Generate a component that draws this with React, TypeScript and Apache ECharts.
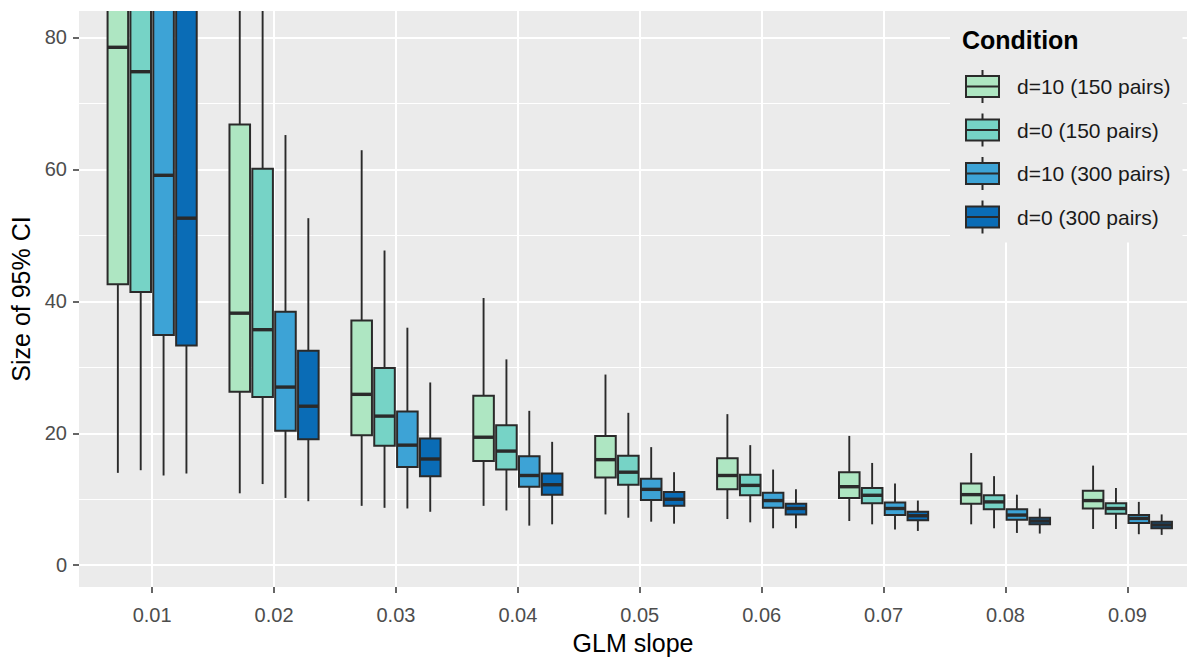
import React, { useEffect, useRef } from "react";
import * as echarts from "echarts";

// GLM slope categories (x positions 1..9)
const xLabels = ["0.01", "0.02", "0.03", "0.04", "0.05", "0.06", "0.07", "0.08", "0.09"];
const xPositions = [1, 2, 3, 4, 5, 6, 7, 8, 9];
const yMajor = [0, 20, 40, 60, 80];
const yMinor = [10, 30, 50, 70];

const conditionNames = ["d=10 (150 pairs)", "d=0 (150 pairs)", "d=10 (300 pairs)", "d=0 (300 pairs)"];
const conditionColors = ["#aee6c2", "#76d3c6", "#3da3d6", "#0a6cb6"];

// each row: [lower whisker, Q1, median, Q3, upper whisker]
const d10_150 = [
  [14.0, 42.6, 78.5, 110, 180],
  [10.9, 26.3, 38.2, 66.8, 120],
  [9.0, 19.7, 25.9, 37.1, 62.9],
  [9.0, 15.8, 19.4, 25.7, 40.5],
  [7.7, 13.3, 16.0, 19.6, 28.9],
  [7.0, 11.5, 13.6, 16.2, 22.9],
  [6.7, 10.2, 11.9, 14.1, 19.6],
  [6.2, 9.3, 10.7, 12.4, 17.0],
  [5.5, 8.6, 9.8, 11.3, 15.1],
];
const d0_150 = [
  [14.4, 41.4, 74.8, 105, 170],
  [12.3, 25.5, 35.7, 60.1, 110],
  [8.7, 18.1, 22.6, 29.9, 47.7],
  [8.3, 14.5, 17.3, 21.2, 31.2],
  [7.2, 12.2, 14.1, 16.6, 23.1],
  [6.5, 10.6, 12.1, 13.7, 18.2],
  [6.2, 9.4, 10.6, 11.7, 15.5],
  [5.6, 8.5, 9.6, 10.6, 13.5],
  [5.5, 7.8, 8.6, 9.4, 11.7],
];
const d10_300 = [
  [13.6, 34.9, 59.1, 95, 150],
  [10.2, 20.4, 27.0, 38.4, 65.2],
  [8.6, 14.9, 18.2, 23.3, 36.0],
  [6.0, 11.9, 13.6, 16.5, 23.4],
  [6.6, 9.9, 11.5, 13.1, 17.9],
  [5.6, 8.7, 9.8, 11.0, 14.5],
  [5.4, 7.6, 8.6, 9.5, 12.4],
  [4.9, 6.9, 7.6, 8.5, 10.7],
  [4.7, 6.4, 7.1, 7.6, 9.6],
];
const d0_300 = [
  [13.9, 33.3, 52.6, 90, 140],
  [9.7, 19.1, 24.1, 32.5, 52.6],
  [8.1, 13.5, 16.1, 19.2, 27.7],
  [6.2, 10.7, 12.2, 13.9, 18.7],
  [6.3, 9.0, 10.0, 11.1, 14.1],
  [5.6, 7.7, 8.6, 9.3, 11.5],
  [5.2, 6.8, 7.5, 8.1, 9.8],
  [4.8, 6.2, 6.7, 7.2, 8.6],
  [4.6, 5.6, 6.1, 6.6, 7.7],
];
const conditionData = [d10_150, d0_150, d10_300, d0_300];

const FONT = "'Liberation Sans', Arial, Helvetica, sans-serif";
const DODGE = 0.75;
const SLOT = DODGE / 4;
const BOX = SLOT * 0.9;
const OUTLINE = "#2a2a2a";
const LEGEND_ICON = "path://M0,6H33V27H0Z M0,16.5H33 M16.5,0V6 M16.5,27V33";

export default function App() {
  const ref = useRef<HTMLDivElement>(null);

  useEffect(() => {
    if (!ref.current) return;
    const chart = echarts.init(ref.current, undefined, { renderer: "svg" });

    const series = conditionData.map((rows, k) => {
      const offset = (k - 1.5) * SLOT;
      return {
        type: "custom",
        name: conditionNames[k],
        clip: true,
        itemStyle: { color: conditionColors[k], borderColor: OUTLINE, borderWidth: 2 },
        encode: { x: 0, y: [1, 2, 3, 4, 5] },
        data: rows.map((r, i) => [xPositions[i], ...r]),
        renderItem: (params: any, api: any) => {
          const g = api.value(0);
          const cs = params.coordSys;
          const top = cs.y - 20;
          const bot = cs.y + cs.height + 20;
          const clampY = (v: number) => Math.min(bot, Math.max(top, v));
          const xc = api.coord([g + offset, 0])[0];
          const w = api.size([BOX, 0])[0];
          const yLo = clampY(api.coord([g, api.value(1)])[1]);
          const yQ1 = clampY(api.coord([g, api.value(2)])[1]);
          const yMd = clampY(api.coord([g, api.value(3)])[1]);
          const yQ3 = clampY(api.coord([g, api.value(4)])[1]);
          const yHi = clampY(api.coord([g, api.value(5)])[1]);
          const ls = { stroke: OUTLINE, lineWidth: 1.9 };
          return {
            type: "group",
            children: [
              { type: "line", shape: { x1: xc, y1: yHi, x2: xc, y2: yQ3 }, style: ls },
              { type: "line", shape: { x1: xc, y1: yQ1, x2: xc, y2: yLo }, style: ls },
              {
                type: "rect",
                shape: { x: xc - w / 2, y: yQ3, width: w, height: yQ1 - yQ3 },
                style: { fill: conditionColors[k], stroke: OUTLINE, lineWidth: 2 },
              },
              {
                type: "line",
                shape: { x1: xc - w / 2, y1: yMd, x2: xc + w / 2, y2: yMd },
                style: { stroke: OUTLINE, lineWidth: 3.4 },
              },
            ],
          };
        },
      };
    });

    chart.setOption({
      animation: false,
      backgroundColor: "#ffffff",
      textStyle: { fontFamily: FONT },
      title: {
        text: "Condition",
        left: 962,
        top: 27,
        padding: 0,
        textStyle: { fontFamily: FONT, fontSize: 25, fontWeight: "bold", color: "#000000" },
      },
      legend: {
        orient: "vertical",
        left: 950,
        top: 11,
        padding: [58, 12, 8, 15],
        itemGap: 8.5,
        itemWidth: 33,
        itemHeight: 33,
        backgroundColor: "#ebebeb",
        selectedMode: false,
        textStyle: { fontFamily: FONT, fontSize: 21, color: "#1a1a1a", padding: [0, 0, 0, 13] },
        data: conditionNames.map((n, k) => ({
          name: n,
          icon: LEGEND_ICON,
          itemStyle: { color: conditionColors[k], borderColor: OUTLINE, borderWidth: 2 },
        })),
      },
      grid: {
        left: 79,
        right: 0,
        top: 11,
        bottom: 67,
        show: true,
        backgroundColor: "#ebebeb",
        borderWidth: 0,
      },
      xAxis: {
        type: "value",
        min: 0.4,
        max: 9.489,
        name: "GLM slope",
        nameLocation: "middle",
        nameGap: 43,
        nameTextStyle: { fontFamily: FONT, fontSize: 25, color: "#000000" },
        axisLine: { show: false, onZero: false },
        axisTick: {
          show: true,
          length: 6,
          customValues: xPositions,
          lineStyle: { color: "#333333", width: 1.5 },
        },
        axisLabel: {
          customValues: xPositions,
          formatter: (v: number) => xLabels[Math.round(v) - 1] ?? "",
          margin: 18,
          fontSize: 20,
          color: "#4d4d4d",
          fontFamily: FONT,
        },
        splitLine: { show: true, lineStyle: { color: "#ffffff", width: 2 } },
      },
      yAxis: [
        {
          type: "value",
          min: -3.3,
          max: 84,
          name: "Size of 95% CI",
          nameLocation: "middle",
          nameGap: 40,
          nameTextStyle: { fontFamily: FONT, fontSize: 25, color: "#000000" },
          axisLine: { show: false, onZero: false },
          axisTick: {
            show: true,
            length: 6,
            customValues: yMajor,
            lineStyle: { color: "#333333", width: 1.5 },
          },
          axisLabel: {
            customValues: yMajor,
            margin: 12,
            fontSize: 20,
            color: "#4d4d4d",
            fontFamily: FONT,
          },
          splitLine: { show: true, lineStyle: { color: "#ffffff", width: 2 } },
        },
        {
          type: "value",
          min: -3.3,
          max: 84,
          position: "right",
          axisLine: { show: false, onZero: false },
          axisTick: { show: false, customValues: yMinor },
          axisLabel: { show: false, customValues: yMinor },
          splitLine: { show: true, lineStyle: { color: "#ffffff", width: 1 } },
        },
      ],
      series,
    });

    return () => chart.dispose();
  }, []);

  return (
    <div
      ref={ref}
      style={{ position: "fixed", left: 0, top: 0, width: 1187, height: 660, background: "#fff" }}
    />
  );
}
